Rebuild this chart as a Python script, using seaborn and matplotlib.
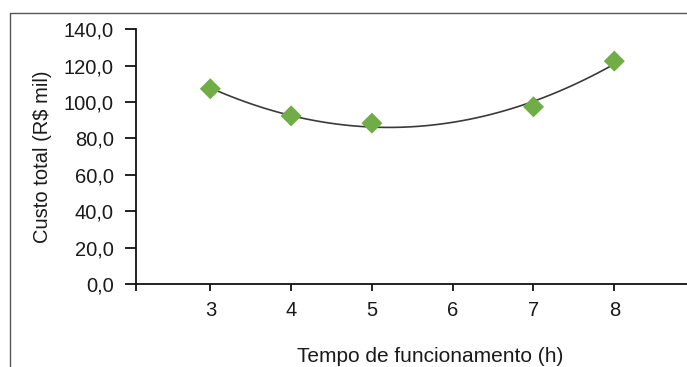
import numpy as np
import pandas as pd
import seaborn as sns
import matplotlib.pyplot as plt
from matplotlib.lines import Line2D
from matplotlib.ticker import FuncFormatter

# Dados
tempo = [3, 4, 5, 7, 8]
custo = [107.3, 92.4, 88.4, 97.4, 122.5]
xticks = [3, 4, 5, 6, 7, 8]
yticks = [0, 20, 40, 60, 80, 100, 120, 140]

df = pd.DataFrame({"Tempo": tempo, "Custo": custo})

sns.set_style("white")
plt.rcParams["font.family"] = ["Liberation Sans", "DejaVu Sans"]
plt.rcParams["font.size"] = 14.5

fig = plt.figure(figsize=(6.87, 3.67), dpi=100)
ax = fig.add_axes([136 / 687, 1 - 284 / 367, 1 - 136 / 687, (284 - 29.3) / 367])

# linha de tendência polinomial (ordem 2)
sns.regplot(data=df, x="Tempo", y="Custo", order=2, ci=None, scatter=False,
            color="#3a3a3a", line_kws={"linewidth": 1.2}, ax=ax)
sns.scatterplot(data=df, x="Tempo", y="Custo", marker="D", s=115,
                color="#70ad47", edgecolor="none", ax=ax, zorder=3)

ax.set_xlim(2.08, 8.9)
ax.set_ylim(0, 140)
ax.set_xticks([2.08] + xticks)
ax.set_xticklabels([""] + [str(t) for t in xticks])
ax.set_yticks(yticks)
ax.yaxis.set_major_formatter(FuncFormatter(lambda v, p: f"{v:.1f}".replace(".", ",")))

for s in ["top", "right"]:
    ax.spines[s].set_visible(False)
for s in ["left", "bottom"]:
    ax.spines[s].set_color("#111111")
    ax.spines[s].set_linewidth(1.3)

ax.tick_params(axis="y", direction="out", length=8, width=1.3, color="#111111",
               pad=8, labelsize=14.5, labelcolor="#1a1a1a", left=True)
ax.tick_params(axis="x", direction="out", length=5, width=1.3, color="#111111",
               pad=7, labelsize=14.5, labelcolor="#1a1a1a", bottom=True)

ax.set_xlabel("Tempo de funcionamento (h)", fontsize=15, color="#1a1a1a")
ax.set_ylabel("Custo total (R$ mil)", fontsize=14.5, color="#1a1a1a")
ax.xaxis.set_label_coords(0.534, -0.247)
ax.yaxis.set_label_coords(-0.152, 0.5)

# moldura da área do gráfico
fig.add_artist(Line2D([10 / 687, 10 / 687], [0, 1 - 13 / 367], color="#555555",
                      linewidth=1.0, transform=fig.transFigure))
fig.add_artist(Line2D([10 / 687, 1], [1 - 13 / 367, 1 - 13 / 367], color="#555555",
                      linewidth=1.0, transform=fig.transFigure))

fig.savefig("out.png", dpi=100)
